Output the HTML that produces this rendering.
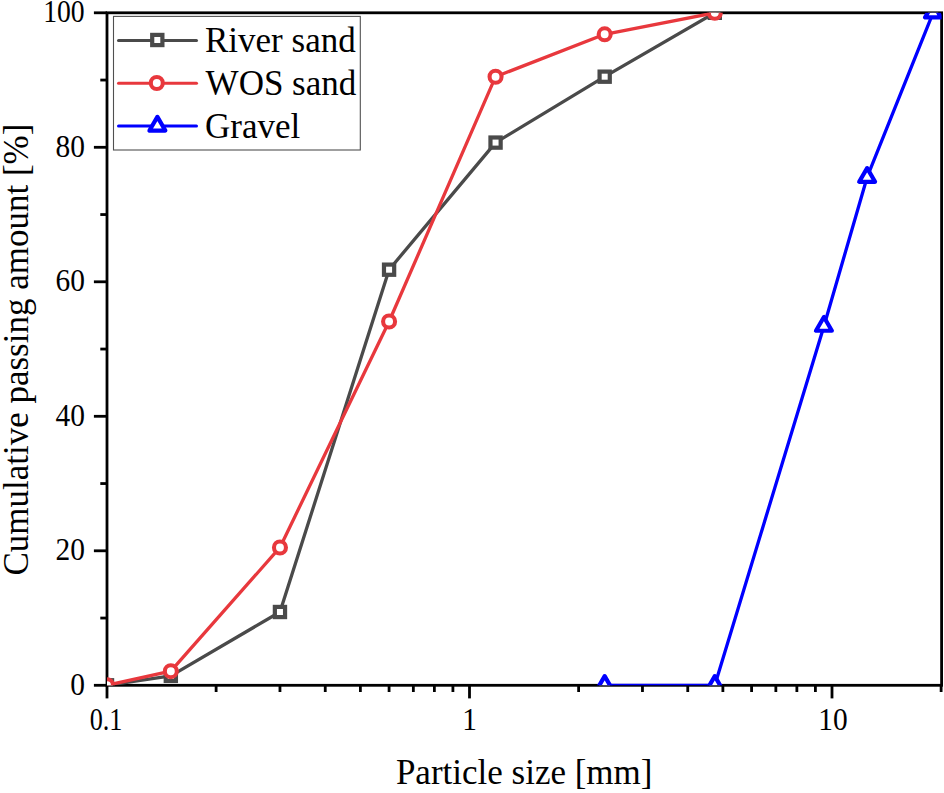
<!DOCTYPE html>
<html><head><meta charset="utf-8"><style>
html,body{margin:0;padding:0;background:#fff;width:944px;height:793px;overflow:hidden}
svg{display:block}
text{font-family:"Liberation Serif",serif;fill:#000}
</style></head><body>
<svg width="944" height="793" viewBox="0 0 944 793">
<defs><clipPath id="c"><rect x="107.0" y="12.8" width="834.6" height="672.5"/></clipPath></defs>
<g stroke="#000" stroke-width="2.8" stroke-linecap="butt"><line x1="93.90" y1="685.30" x2="107.00" y2="685.30"/><line x1="100.30" y1="618.05" x2="107.00" y2="618.05"/><line x1="93.90" y1="550.80" x2="107.00" y2="550.80"/><line x1="100.30" y1="483.55" x2="107.00" y2="483.55"/><line x1="93.90" y1="416.30" x2="107.00" y2="416.30"/><line x1="100.30" y1="349.05" x2="107.00" y2="349.05"/><line x1="93.90" y1="281.80" x2="107.00" y2="281.80"/><line x1="100.30" y1="214.55" x2="107.00" y2="214.55"/><line x1="93.90" y1="147.30" x2="107.00" y2="147.30"/><line x1="100.30" y1="80.05" x2="107.00" y2="80.05"/><line x1="93.90" y1="12.80" x2="107.00" y2="12.80"/><line x1="107.00" y1="685.30" x2="107.00" y2="698.40"/><line x1="216.12" y1="685.30" x2="216.12" y2="692.00"/><line x1="279.96" y1="685.30" x2="279.96" y2="692.00"/><line x1="325.25" y1="685.30" x2="325.25" y2="692.00"/><line x1="360.38" y1="685.30" x2="360.38" y2="692.00"/><line x1="389.08" y1="685.30" x2="389.08" y2="692.00"/><line x1="413.35" y1="685.30" x2="413.35" y2="692.00"/><line x1="434.37" y1="685.30" x2="434.37" y2="692.00"/><line x1="452.91" y1="685.30" x2="452.91" y2="692.00"/><line x1="469.50" y1="685.30" x2="469.50" y2="698.40"/><line x1="578.62" y1="685.30" x2="578.62" y2="692.00"/><line x1="642.46" y1="685.30" x2="642.46" y2="692.00"/><line x1="687.75" y1="685.30" x2="687.75" y2="692.00"/><line x1="722.88" y1="685.30" x2="722.88" y2="692.00"/><line x1="751.58" y1="685.30" x2="751.58" y2="692.00"/><line x1="775.85" y1="685.30" x2="775.85" y2="692.00"/><line x1="796.87" y1="685.30" x2="796.87" y2="692.00"/><line x1="815.41" y1="685.30" x2="815.41" y2="692.00"/><line x1="832.00" y1="685.30" x2="832.00" y2="698.40"/><line x1="941.12" y1="685.30" x2="941.12" y2="692.00"/></g>
<rect x="107.0" y="12.8" width="834.6" height="672.5" fill="none" stroke="#000" stroke-width="2.8"/>
<g style="font-size:31px"><text transform="translate(85.0 694.60) scale(0.950 1.0)" text-anchor="end">0</text><text transform="translate(85.0 560.10) scale(0.950 1.0)" text-anchor="end">20</text><text transform="translate(85.0 425.60) scale(0.950 1.0)" text-anchor="end">40</text><text transform="translate(85.0 291.10) scale(0.950 1.0)" text-anchor="end">60</text><text transform="translate(85.0 156.60) scale(0.950 1.0)" text-anchor="end">80</text><text transform="translate(84.7 22.10) scale(0.893 1.0)" text-anchor="end">100</text><text transform="translate(106.00 729.5) scale(0.845 1.0)" text-anchor="middle">0.1</text><text transform="translate(469.50 729.5) scale(0.950 1.0)" text-anchor="middle">1</text><text transform="translate(833.00 729.5) scale(0.950 1.0)" text-anchor="middle">10</text></g>
<g clip-path="url(#c)">
<polyline points="107.00,685.30 170.83,675.88 279.96,612.00 389.08,269.69 495.56,142.59 604.68,76.69 714.80,12.80" fill="none" stroke="#4a4a4a" stroke-width="3.3" stroke-linejoin="round" stroke-linecap="round"/><rect x="101.90" y="680.20" width="10.2" height="10.2" fill="#fff" stroke="#4a4a4a" stroke-width="4.2"/><rect x="165.73" y="670.78" width="10.2" height="10.2" fill="#fff" stroke="#4a4a4a" stroke-width="4.2"/><rect x="274.86" y="606.90" width="10.2" height="10.2" fill="#fff" stroke="#4a4a4a" stroke-width="4.2"/><rect x="383.98" y="264.59" width="10.2" height="10.2" fill="#fff" stroke="#4a4a4a" stroke-width="4.2"/><rect x="490.46" y="137.49" width="10.2" height="10.2" fill="#fff" stroke="#4a4a4a" stroke-width="4.2"/><rect x="599.58" y="71.59" width="10.2" height="10.2" fill="#fff" stroke="#4a4a4a" stroke-width="4.2"/><rect x="709.70" y="7.70" width="10.2" height="10.2" fill="#fff" stroke="#4a4a4a" stroke-width="4.2"/>
<polyline points="107.00,685.30 170.83,671.18 279.96,547.44 389.08,321.48 495.56,76.69 604.68,34.32 714.80,12.80" fill="none" stroke="#E8383D" stroke-width="3.3" stroke-linejoin="round" stroke-linecap="round"/><circle cx="107.00" cy="685.30" r="6.0" fill="#fff" stroke="#E8383D" stroke-width="4.1"/><circle cx="170.83" cy="671.18" r="6.0" fill="#fff" stroke="#E8383D" stroke-width="4.1"/><circle cx="279.96" cy="547.44" r="6.0" fill="#fff" stroke="#E8383D" stroke-width="4.1"/><circle cx="389.08" cy="321.48" r="6.0" fill="#fff" stroke="#E8383D" stroke-width="4.1"/><circle cx="495.56" cy="76.69" r="6.0" fill="#fff" stroke="#E8383D" stroke-width="4.1"/><circle cx="604.68" cy="34.32" r="6.0" fill="#fff" stroke="#E8383D" stroke-width="4.1"/><circle cx="714.80" cy="12.80" r="6.0" fill="#fff" stroke="#E8383D" stroke-width="4.1"/>
<polyline points="604.68,685.30 714.80,685.30 823.92,326.18 867.13,177.23 933.05,12.80" fill="none" stroke="#0000FF" stroke-width="3.3" stroke-linejoin="round" stroke-linecap="round"/><polygon points="596.73,689.87 612.63,689.87 604.68,676.17" fill="#fff" stroke="#0000FF" stroke-width="4.2" stroke-linejoin="round"/><polygon points="706.85,689.87 722.75,689.87 714.80,676.17" fill="#fff" stroke="#0000FF" stroke-width="4.2" stroke-linejoin="round"/><polygon points="815.97,330.75 831.87,330.75 823.92,317.05" fill="#fff" stroke="#0000FF" stroke-width="4.2" stroke-linejoin="round"/><polygon points="859.18,181.79 875.08,181.79 867.13,168.09" fill="#fff" stroke="#0000FF" stroke-width="4.2" stroke-linejoin="round"/><polygon points="925.10,17.37 941.00,17.37 933.05,3.67" fill="#fff" stroke="#0000FF" stroke-width="4.2" stroke-linejoin="round"/>
</g>
<rect x="113.5" y="16.4" width="246.8" height="133.6" fill="#fff" stroke="#505050" stroke-width="1.1"/>
<g stroke-width="3.0" stroke-linecap="round">
<line x1="118.5" y1="40.4" x2="196.5" y2="40.4" stroke="#4a4a4a"/>
<line x1="118.5" y1="83.3" x2="196.5" y2="83.3" stroke="#E8383D"/>
<line x1="118.5" y1="126.1" x2="196.5" y2="126.1" stroke="#0000FF"/>
</g>
<rect x="152.20" y="34.90" width="10.2" height="10.2" fill="#fff" stroke="#4a4a4a" stroke-width="4.2"/><circle cx="156.80" cy="83.00" r="6.0" fill="#fff" stroke="#E8383D" stroke-width="4.1"/><polygon points="149.45,130.57 165.35,130.57 157.40,116.87" fill="#fff" stroke="#0000FF" stroke-width="4.2" stroke-linejoin="round"/>
<g style="font-size:35px">
<text x="205" y="51.8">River sand</text>
<text x="205.6" y="94.9">WOS sand</text>
<text x="205" y="138.2">Gravel</text>
</g>
<text x="524.2" y="783.6" text-anchor="middle" style="font-size:35px">Particle size [mm]</text>
<text transform="translate(28.4 349.6) rotate(-90)" text-anchor="middle" style="font-size:35px">Cumulative passing amount [%]</text>
</svg>
</body></html>
